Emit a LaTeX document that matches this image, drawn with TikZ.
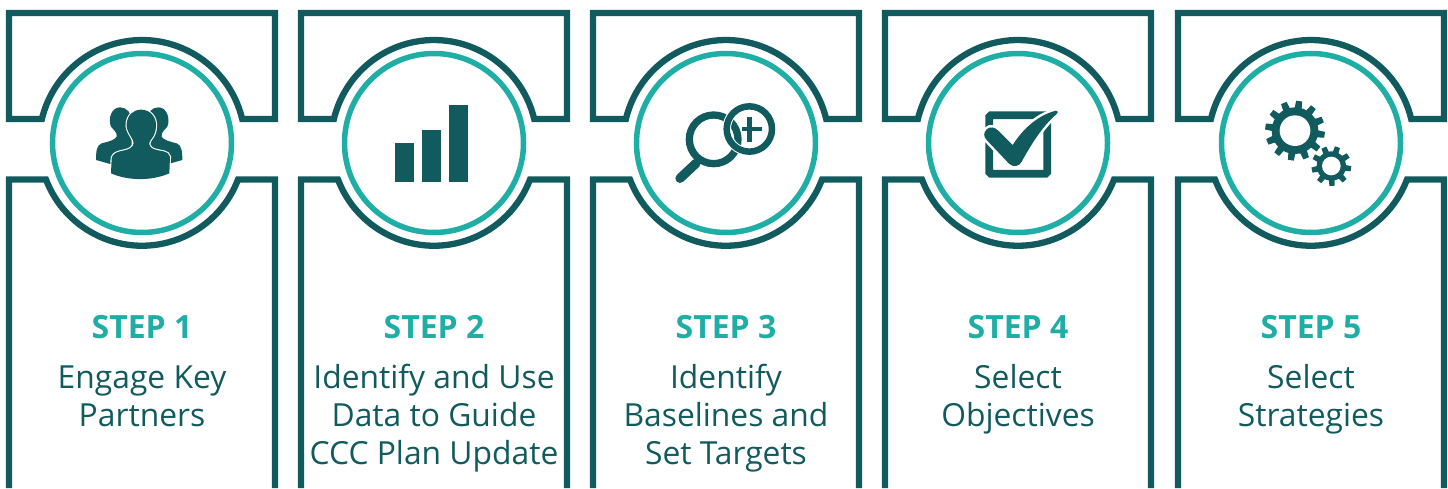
\documentclass[tikz,border=0pt]{standalone}
\usepackage{fontspec}
\setmainfont{Open Sans}
\definecolor{darkteal}{HTML}{115A5E}
\definecolor{ringteal}{HTML}{1FAEA6}
\tikzset{
  x=1pt,y=1pt,
  framepath/.style={draw=darkteal,line width=6.3pt,miter limit=10},
  ring/.style={draw=ringteal,line width=5.5pt,fill=white},
  stephead/.style={font=\fontsize{32}{32}\selectfont\bfseries,text=ringteal,anchor=base},
  steptext/.style={font=\fontsize{31.8}{31.8}\selectfont,text=darkteal,anchor=base},
}
\newcommand{\panelframe}[2]{%
 \begin{scope}[shift={(#1,345)}]
  \draw[framepath] (-133,24) -- (-133,130) -- (133,130) -- (133,24) -- (100.2,24) arc[start angle=13.5,end angle=166.5,radius=103] -- cycle;
  \draw[framepath] (-133,-345) -- (-133,-36.5) -- (-96,-36.5) arc[start angle=200.8,end angle=339.2,radius=102.7] -- (133,-36.5) -- (133,-345);
  \node[ring,circle,minimum size=179pt,inner sep=0pt,outer sep=0pt] (ring#2) at (0,0) {};
  \node[stephead] (head#2) at (0,-195) {STEP #2};
 \end{scope}}
\newcommand{\backperson}{%
 \fill[darkteal] (105,37) .. controls (125,37) and (140,55) .. (140,75) -- (140,170) -- (75,207) -- (33,195) .. controls (33,170) and (35,150) .. (50,145) .. controls (70,140) and (90,135) .. (95,125) .. controls (97,110) and (85,105) .. (78,95) .. controls (68,70) and (80,37) .. (105,37) -- cycle;}
\newcommand{\gear}[6]{% cx cy tip root hole n
 \fill[darkteal] (#1,#2) circle[radius=#4];
 \pgfmathsetmacro{\gstep}{360/#6}
 \foreach \k in {1,...,#6}{
  \pgfmathsetmacro{\ga}{\k*\gstep+8}
  \fill[darkteal] ({#1+(#4-2)*cos(\ga-0.30*\gstep)},{#2+(#4-2)*sin(\ga-0.30*\gstep)}) -- ({#1+#3*cos(\ga-0.19*\gstep)},{#2+#3*sin(\ga-0.19*\gstep)}) -- ({#1+#3*cos(\ga+0.19*\gstep)},{#2+#3*sin(\ga+0.19*\gstep)}) -- ({#1+(#4-2)*cos(\ga+0.30*\gstep)},{#2+(#4-2)*sin(\ga+0.30*\gstep)}) -- cycle;
 }
 \fill[white] (#1,#2) circle[radius=#5];}
\begin{document}
\begin{tikzpicture}
\useasboundingbox (0,0) rectangle (1448,488);
\panelframe{142}{1}
\panelframe{434}{2}
\panelframe{726}{3}
\panelframe{1018}{4}
\panelframe{1311}{5}
% texts
\node[steptext] (t1a) at (142,100) {Engage Key};
\node[steptext] (t1b) at (142,62) {Partners};
\node[steptext] (t2a) at (434,100) {Identify and Use};
\node[steptext] (t2b) at (434,62) {Data to Guide};
\node[steptext] (t2c) at (434,24) {CCC Plan Update};
\node[steptext] (t3a) at (726,100) {Identify};
\node[steptext] (t3b) at (726,62) {Baselines and};
\node[steptext] (t3c) at (726,24) {Set Targets};
\node[steptext] (t4a) at (1018,100) {Select};
\node[steptext] (t4b) at (1018,62) {Objectives};
\node[steptext] (t5a) at (1311,100) {Select};
\node[steptext] (t5b) at (1311,62) {Strategies};
% people
\begin{scope}[shift={(142,345)},shift={(-57,48)},xscale=1/3,yscale=-1/3]
 \backperson
 \begin{scope}[xscale=-1,xshift=-325]\backperson\end{scope}
 \def\frontperson{(168,44) .. controls (195,44) and (215,65) .. (213,95) .. controls (212,115) and (205,125) .. (197,135) .. controls (190,145) and (192,155) .. (205,162) .. controls (225,170) and (250,165) .. (255,185) -- (253,235) .. controls (200,258) and (130,258) .. (78,235) -- (80,190) .. controls (85,165) and (120,170) .. (135,160) .. controls (150,150) and (148,140) .. (138,125) .. controls (128,110) and (123,95) .. (125,85) .. controls (128,60) and (145,44) .. (168,44) -- cycle}
 \draw[white,line width=2.2pt] \frontperson;
 \fill[darkteal] \frontperson;
\end{scope}
% bars
\begin{scope}[shift={(434,345)}]
 \fill[darkteal] (-39,-39) rectangle (-20,0);
 \fill[darkteal] (-12,-39) rectangle (7,13);
 \fill[darkteal] (15,-39) rectangle (34,38);
\end{scope}
% magnifier
\begin{scope}[shift={(726,345)},shift={(-66,63)},xscale=1/3,yscale=-1/3]
 \draw[darkteal,line width=9.3pt,line cap=round] (108,250) -- (60,295);
 \draw[white,line width=8.5pt] (268,147) circle[radius=68];
 \draw[darkteal,line width=7.3pt] (161,178) circle[radius=73];
 \draw[white,line width=8.5pt] (268,147) ++(100:68) arc[start angle=100,end angle=250,radius=68];
 \draw[darkteal,line width=6.5pt] (268,147) circle[radius=68];
 \draw[darkteal,line width=4.6pt] (268,110) -- (268,185) (246,147) -- (305,147);
\end{scope}
% checkbox
\begin{scope}[shift={(1018,345)},shift={(-48,53)},xscale=1/3,yscale=-1/3]
 \draw[darkteal,line width=7.7pt,rounded corners=1.5pt] (58,76) rectangle (232,251);
 \def\checkmark{(50,118) .. controls (60,108) and (75,112) .. (85,122) -- (128,165) .. controls (160,115) and (205,75) .. (258,62) .. controls (265,62) and (265,68) .. (260,72) .. controls (215,110) and (180,170) .. (155,215) .. controls (148,230) and (130,232) .. (118,222) -- (50,150) .. controls (40,140) and (40,128) .. (50,118) -- cycle}
 \draw[white,line width=5pt] \checkmark;
 \fill[darkteal] \checkmark;
\end{scope}
% gears
\begin{scope}[shift={(1311,345)},shift={(-61,53)},xscale=1/3,yscale=-1/3]
 \gear{135}{122}{90}{70}{46}{12}
 \gear{244}{228}{60}{44}{28}{9}
\end{scope}
\end{tikzpicture}
\end{document}
